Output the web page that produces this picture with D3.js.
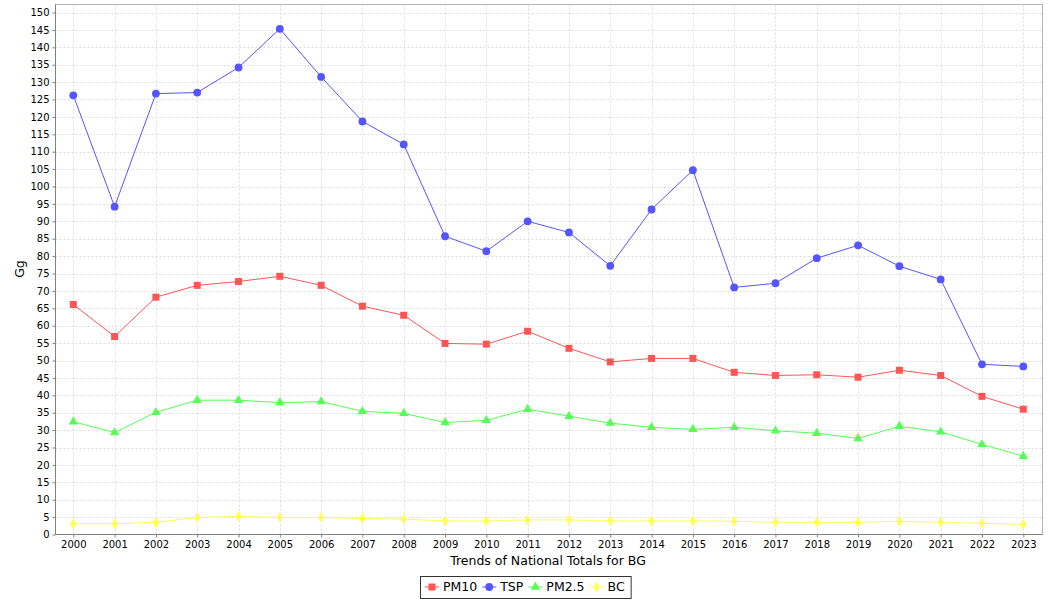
<!DOCTYPE html>
<html><head><meta charset="utf-8">
<script src="https://cdn.jsdelivr.net/npm/d3@7"></script>
<style>body{margin:0;background:#fff}svg{display:block;font-family:"DejaVu Sans",sans-serif}</style>
</head><body><svg id="c" width="1050" height="600"></svg>
<script>
const years = [2000,2001,2002,2003,2004,2005,2006,2007,2008,2009,2010,2011,2012,2013,2014,2015,2016,2017,2018,2019,2020,2021,2022,2023];
const pm10 = [66.1,56.9,68.2,71.6,72.7,74.2,71.6,65.6,63.0,54.9,54.7,58.4,53.5,49.6,50.6,50.6,46.6,45.7,45.9,45.2,47.2,45.7,39.7,36.0];
const tsp = [126.2,94.2,126.7,127.0,134.2,145.3,131.5,118.7,112.1,85.7,81.4,90.0,86.8,77.2,93.4,104.7,71.0,72.2,79.4,83.1,77.1,73.3,48.9,48.3];
const pm25 = [32.4,29.3,35.1,38.6,38.6,37.9,38.2,35.4,34.8,32.2,32.8,36.0,34.0,32.0,30.8,30.2,30.8,29.8,29.1,27.6,31.1,29.5,25.9,22.5];
const bc = [3.1,3.1,3.5,4.9,5.2,4.9,4.9,4.6,4.4,3.9,3.9,4.2,4.2,3.9,3.9,3.9,3.8,3.5,3.5,3.5,3.8,3.5,3.2,2.9];
const seriesNames = ["PM10","TSP","PM2.5","BC"];
const yTicks = d3.range(0,151,5);
const title = "Trends of National Totals for BG";
const yLabel = "Gg";

const colors = ["#ff5555","#5555ff","#55ff55","#ffff55"];
const shapes = [d3.symbolSquare, d3.symbolCircle, d3.symbolTriangle, d3.symbolDiamond];
const sizes = [49, 48, 38, 34];
const series = [pm10, tsp, pm25, bc];

const svg = d3.select("#c");
const L=55.5, R=1042.5, T=4.5, B=534.5;
const x = d3.scalePoint().domain(years).range([73.3,1023.3]);
const y = d3.scaleLinear().domain([0,150]).range([B,12.5]);

svg.append("rect").attr("x",L).attr("y",T).attr("width",R-L).attr("height",B-T).attr("fill","#fff").attr("stroke","#b4b4b4");

const g = svg.append("g");
g.selectAll(".hg").data(yTicks.filter(d=>d>0)).join("line")
 .attr("x1",L).attr("x2",R).attr("y1",d=>Math.round(y(d))+0.5).attr("y2",d=>Math.round(y(d))+0.5)
 .attr("stroke","#dcdcdc").attr("stroke-dasharray","2,2");
g.selectAll(".vg").data(years).join("line")
 .attr("y1",T).attr("y2",B).attr("x1",d=>Math.round(x(d))+0.5).attr("x2",d=>Math.round(x(d))+0.5)
 .attr("stroke","#dcdcdc").attr("stroke-dasharray","2,2");

const yAxis = d3.axisLeft(y).tickValues(yTicks).tickSize(3).tickPadding(3).tickFormat(d3.format("d"));
const ya = svg.append("g").attr("transform",`translate(${L},0)`).call(yAxis);
const xAxis = d3.axisBottom(x).tickSize(3).tickPadding(3).tickFormat(d=>String(d));
const xa = svg.append("g").attr("transform",`translate(0,${B})`).call(xAxis);
[ya,xa].forEach(a=>{
  a.select(".domain").attr("stroke","#808080");
  a.selectAll(".tick line").attr("stroke","#808080");
  a.selectAll("text").attr("fill","#000").style("font-size","10px").style("font-family","DejaVu Sans");
});
xa.select(".domain").attr("d",`M${L},0H${R}`);
ya.select(".domain").attr("d",`M0,${B}V${T}`);

series.forEach((s,i)=>{
  const line = d3.line().x((d,j)=>x(years[j])).y(d=>y(d));
  svg.append("path").datum(s).attr("d",line).attr("fill","none").attr("stroke",colors[i]).attr("stroke-width",1);
});
series.forEach((s,i)=>{
  const sym = d3.symbol().type(shapes[i]).size(sizes[i]);
  svg.append("g").selectAll("path").data(s).join("path")
   .attr("d",sym).attr("fill",colors[i])
   .attr("transform",(d,j)=>`translate(${x(years[j])},${y(d)})`);
});

svg.append("text").attr("x",548).attr("y",565).attr("text-anchor","middle").style("font-size","12.5px").text(title);
svg.append("text").attr("transform","translate(24,269) rotate(-90)").attr("text-anchor","middle").style("font-size","12.5px").text(yLabel);

const lg = svg.append("g");
let cx = 425;
seriesNames.forEach((n,i)=>{
  const it = lg.append("g");
  it.append("line").attr("x1",cx).attr("x2",cx+14).attr("y1",587).attr("y2",587).attr("stroke",colors[i]);
  it.append("path").attr("d",d3.symbol().type(shapes[i]).size(sizes[i])()).attr("fill",colors[i])
    .attr("transform",`translate(${cx+7},587)`);
  const t = it.append("text").attr("x",cx+18).attr("y",591).style("font-size","12.5px").text(n);
  cx += 18 + t.node().getComputedTextLength() + 5;
});
lg.insert("rect",":first-child").attr("x",420.5).attr("y",576.5).attr("width",cx-420+1).attr("height",22).attr("fill","#fff").attr("stroke","#333");
</script></body></html>
